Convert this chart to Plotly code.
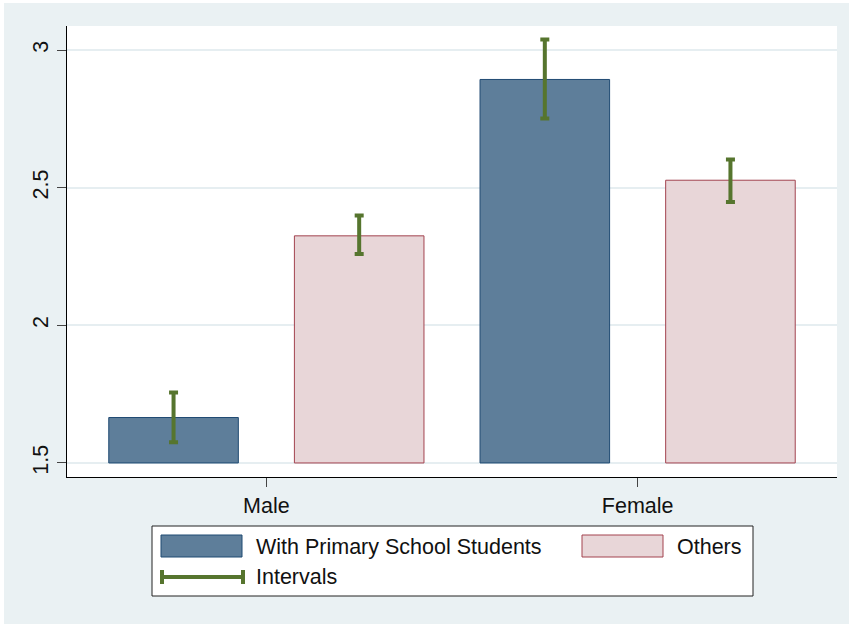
import plotly.graph_objects as go

# ---- data ----
categories = ["Male", "Female"]
primary_means = [1.665, 2.893]
others_means = [2.325, 2.527]
primary_lo = [1.575, 2.751]
primary_hi = [1.756, 3.038]
others_lo = [2.259, 2.448]
others_hi = [2.399, 2.602]
y_ticks = [1.5, 2, 2.5, 3]
y_ticklabels = ["1.5", "2", "2.5", "3"]

BLUE_FILL = "#5E7E9A"
BLUE_EDGE = "#1F4A72"
PINK_FILL = "#E8D6D8"
PINK_EDGE = "#A3434F"
GREEN = "#56752E"
OUTER_BG = "#EAF1F3"
FONT = "Liberation Sans, Arial, sans-serif"
FS = 21.5

W, H = 849, 624
L, R, T, B = 67, 12, 26, 147
PW, PH = W - L - R, H - T - B


def px(x):
    return (x - L) / PW


def py(y):
    return (H - B - y) / PH


fig = go.Figure()
fig.add_trace(go.Bar(
    x=categories, y=[m - 1.5 for m in primary_means], base=1.5,
    name="With Primary School Students",
    marker=dict(color=BLUE_FILL, line=dict(color=BLUE_EDGE, width=1)),
    error_y=dict(type="data", symmetric=False,
                 array=[h - m for h, m in zip(primary_hi, primary_means)],
                 arrayminus=[m - l for m, l in zip(primary_means, primary_lo)],
                 color=GREEN, thickness=4, width=4.5),
))
fig.add_trace(go.Bar(
    x=categories, y=[m - 1.5 for m in others_means], base=1.5,
    name="Others",
    marker=dict(color=PINK_FILL, line=dict(color=PINK_EDGE, width=1)),
    error_y=dict(type="data", symmetric=False,
                 array=[h - m for h, m in zip(others_hi, others_means)],
                 arrayminus=[m - l for m, l in zip(others_means, others_lo)],
                 color=GREEN, thickness=4, width=4.5),
))

shapes = []
# white slivers at top-left edge of image
shapes.append(dict(type="rect", xref="paper", yref="paper", x0=px(-5), x1=px(4), y0=py(-5), y1=py(630),
                   fillcolor="white", line=dict(width=0), layer="below"))
shapes.append(dict(type="rect", xref="paper", yref="paper", x0=px(-5), x1=px(855), y0=py(-5), y1=py(3),
                   fillcolor="white", line=dict(width=0), layer="below"))
# legend box
shapes.append(dict(type="rect", xref="paper", yref="paper", x0=px(152), x1=px(753), y0=py(596), y1=py(526),
                   fillcolor="white", line=dict(color="#222", width=1)))
# swatches
shapes.append(dict(type="rect", xref="paper", yref="paper", x0=px(161), x1=px(242), y0=py(557), y1=py(535),
                   fillcolor=BLUE_FILL, line=dict(color=BLUE_EDGE, width=1)))
shapes.append(dict(type="rect", xref="paper", yref="paper", x0=px(582), x1=px(663), y0=py(557), y1=py(535),
                   fillcolor=PINK_FILL, line=dict(color=PINK_EDGE, width=1)))
# interval swatch
shapes.append(dict(type="line", xref="paper", yref="paper", x0=px(162), x1=px(243), y0=py(577), y1=py(577),
                   line=dict(color=GREEN, width=4)))
for xx in (162, 243):
    shapes.append(dict(type="line", xref="paper", yref="paper", x0=px(xx), x1=px(xx), y0=py(570), y1=py(584),
                       line=dict(color=GREEN, width=4)))

annotations = [
    dict(text="With Primary School Students", xref="paper", yref="paper", x=px(254), y=py(547),
         xanchor="left", yanchor="middle", showarrow=False, font=dict(size=FS, color="#111", family=FONT)),
    dict(text="Others", xref="paper", yref="paper", x=px(675), y=py(547),
         xanchor="left", yanchor="middle", showarrow=False, font=dict(size=FS, color="#111", family=FONT)),
    dict(text="Intervals", xref="paper", yref="paper", x=px(254), y=py(577),
         xanchor="left", yanchor="middle", showarrow=False, font=dict(size=FS, color="#111", family=FONT)),
]

fig.update_layout(
    width=W, height=H,
    margin=dict(l=L, r=R, t=T, b=B, pad=0),
    paper_bgcolor=OUTER_BG, plot_bgcolor="white",
    barmode="group", bargap=0.0, bargroupgap=0.302,
    showlegend=False,
    font=dict(family=FONT, size=FS, color="#111"),
    shapes=shapes, annotations=annotations,
    xaxis=dict(range=[-0.537, 1.537], showline=True, linecolor="black", linewidth=1.2,
               ticks="outside", ticklen=9, tickcolor="#444", tickwidth=1,
               showgrid=False, zeroline=False, tickfont=dict(size=FS, color="#111")),
    yaxis=dict(range=[1.449, 3.0872], tickvals=y_ticks, ticktext=y_ticklabels, tickangle=-90,
               showline=True, linecolor="black", linewidth=1.2,
               ticks="outside", ticklen=9, tickcolor="#444", tickwidth=1,
               showgrid=True, gridcolor="#E6EEF1", gridwidth=2, zeroline=False,
               tickfont=dict(size=FS, color="#111")),
)

fig.write_html("out.html")
